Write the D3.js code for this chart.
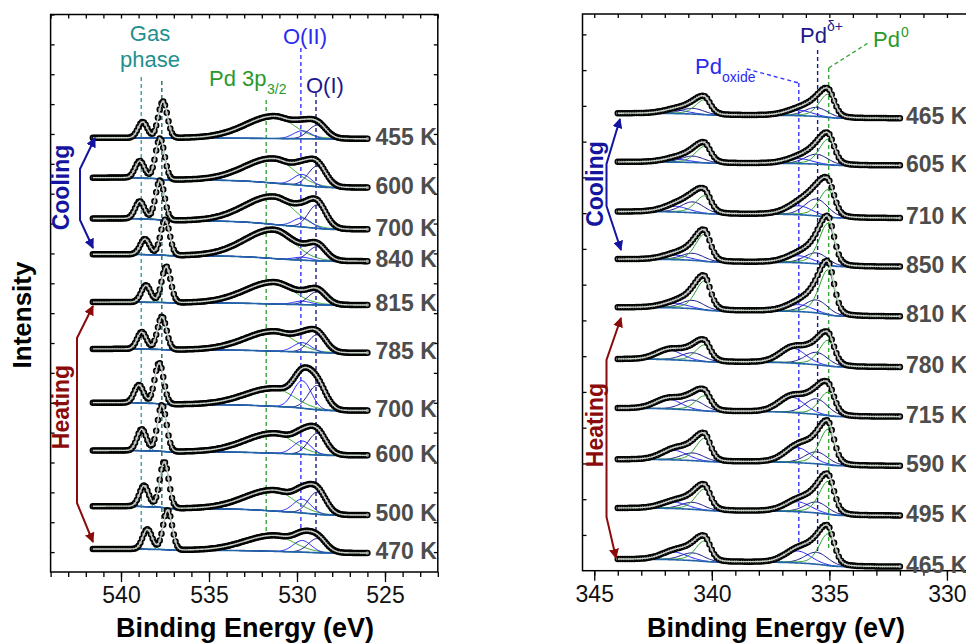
<!DOCTYPE html>
<html>
<head>
<meta charset="utf-8">
<script src="https://cdn.jsdelivr.net/npm/d3@7"></script>
<style>
  body { margin: 0; background: #fff; }
  svg { display: block; font-family: "Liberation Sans", Arial, sans-serif; }
</style>
</head>
<body>
<script>
// ---- O 1s / Pd 3p3/2 region (left panel), top to bottom ----
const oLabels = ['455 K', '600 K', '700 K', '840 K', '815 K', '785 K', '700 K', '600 K', '500 K', '470 K'];
const oOffset = [415, 366, 324, 292, 248, 200, 142, 97, 37, -1];     // background level at low BE end
const oStep   = [1, 10, 11, 7, 3, 4, 8, 5, 9, 4];                     // Shirley step
const oGasPos = [537.62, 537.78, 537.78, 537.49, 537.43, 537.67, 537.83, 537.67, 537.54, 537.35];
const oGasA   = [16, 17, 17.5, 15.5, 17, 17, 18, 21.5, 21, 20];        // gas phase, higher BE line
const oGasB   = [36.5, 40.7, 39.5, 35.5, 36, 33, 41, 46.5, 46, 40];    // gas phase, main line
const oPd3p   = [22.5, 24.7, 28, 29, 22, 20, 18, 20, 21, 16];
const oOII    = [8, 11, 9, 3, 3.5, 9.4, 27.6, 13.3, 13.9, 11.7];
const oOI     = [13.7, 20.6, 23.5, 14.3, 13.4, 17.8, 24.4, 21.7, 22.2, 14.2];

// ---- Pd 3d region (right panel), top to bottom ----
const pdLabels   = ['465 K', '605 K', '710 K', '850 K', '810 K', '780 K', '715 K', '590 K', '495 K', '465 K'];
const pdOffset   = [419.5, 372, 319, 270, 220, 169, 119, 69.5, 19.5, -32];
const pdStep     = [5, 3.5, 6.5, 7.5, 9, 8, 8.5, 6.5, 7.5, 7.5];
const pdMetal    = [23.4, 25.8, 27.7, 42.3, 45.3, 26, 23.6, 35.9, 33.2, 32];
const pdDelta    = [9, 10, 17, 11, 13, 12.5, 15.7, 12, 11, 12];
const pdOxide    = [5.5, 5, 9, 7, 7, 15, 15.5, 15, 10, 12];
const pdOxidePos = [336.3, 336.3, 336.3, 336.3, 336.3, 336.55, 336.6, 336.35, 336.35, 336.35];

const xTicksL = [540, 535, 530, 525];
const xTicksR = [345, 340, 335, 330];

const font = '"Liberation Sans", Arial, sans-serif';
const svg = d3.select("body").append("svg").attr("width", 966).attr("height", 644);

const xL = d3.scaleLinear([544, 522], [50.6, 437.8]);
const yL = d3.scaleLinear([-20, 540], [572, 14.5]);
const xR = d3.scaleLinear([345.5, 328.5], [582.5, 982.2]);
const yR = d3.scaleLinear([-36, 524.5], [570.7, 14]);

// pseudo-Voigt line, separate widths on the high-BE / low-BE sides
function peak(e, c, h, wHi, wLo, eta) {
  const t = (e - c) / (e >= c ? wHi : wLo);
  return h * ((1 - eta) * Math.exp(-4 * Math.LN2 * t * t) + eta / (1 + 4 * t * t));
}

function frame(x, y, majors, yTicks) {
  const g = svg.append("g");
  const [x0, x1] = x.range(), [yb, yt] = y.range();
  const d = x.domain();
  const minors = d3.range(Math.ceil(Math.min(...d)), Math.max(...d) + 0.01, 1);
  g.append("g").attr("transform", `translate(0,${yb})`)
    .call(d3.axisBottom(x).tickValues(minors).tickSize(5).tickFormat(""));
  g.append("g").attr("transform", `translate(0,${yb})`)
    .call(d3.axisBottom(x).tickValues(majors).tickSize(10).tickPadding(5).tickFormat(d3.format("d")));
  g.append("g").attr("transform", `translate(0,${yt})`)
    .call(d3.axisBottom(x).tickValues(minors).tickSize(4).tickFormat(""));
  g.append("g").attr("transform", `translate(${x0},0)`)
    .call(d3.axisRight(y).tickValues(yTicks).tickSize(4).tickFormat(""));
  g.append("g").attr("transform", `translate(${x1},0)`)
    .call(d3.axisLeft(y).tickValues(yTicks).tickSize(4).tickFormat(""));
  g.selectAll(".domain").remove();
  g.selectAll(".tick line").attr("stroke", "#000").attr("stroke-width", 1.3);
  g.selectAll(".tick text").attr("font-size", 23).attr("font-family", font).attr("fill", "#111");
  g.append("rect").attr("x", x0).attr("y", yt).attr("width", x1 - x0).attr("height", yb - yt)
    .attr("fill", "none").attr("stroke", "#000").attr("stroke-width", 1.5);
}

function spectrum(g, x, y, es, comps, offset, step) {
  const sig = es.map(e => d3.sum(comps, c => c.f(e)));
  const total = d3.sum(sig);
  const bg = new Array(es.length);
  let acc = 0;
  for (let i = es.length - 1; i >= 0; i--) { acc += sig[i]; bg[i] = offset + step * acc / total; }
  const line = d3.line().x(d => x(d[0])).y(d => y(d[1]));
  comps.forEach(c => {
    g.append("path").attr("d", line(es.map((e, i) => [e, bg[i] + c.f(e)])))
      .attr("fill", "none").attr("stroke", c.color).attr("stroke-width", 1);
  });
  g.append("path").attr("d", line(es.map((e, i) => [e, bg[i]])))
    .attr("fill", "none").attr("stroke", "#2363a8").attr("stroke-width", 1.6);
  const env = es.map((e, i) => [e, bg[i] + sig[i]]);
  g.selectAll(null).data(env.filter((d, i) => i % 2 === 0)).join("circle")
    .attr("cx", d => x(d[0])).attr("cy", d => y(d[1])).attr("r", 2.5)
    .attr("fill", "#8a8a8a").attr("stroke", "#000").attr("stroke-width", 1.5);
  g.append("path").attr("d", line(env))
    .attr("fill", "none").attr("stroke", "#c9d3c9").attr("stroke-width", 1.4);
}

function dashed(x1, y1, x2, y2, color) {
  svg.append("line").attr("x1", x1).attr("y1", y1).attr("x2", x2).attr("y2", y2)
    .attr("stroke", color).attr("stroke-width", 1.4).attr("stroke-dasharray", "4,3");
}

function label(txt, x, y, size, color, opts = {}) {
  return svg.append("text").attr("x", x).attr("y", y).text(txt)
    .attr("font-size", size).attr("fill", color).attr("font-family", font)
    .attr("font-weight", opts.bold ? "bold" : null)
    .attr("text-anchor", opts.anchor || "start");
}

frame(xL, yL, xTicksL, d3.range(0, 541, 30));
frame(xR, yR, xTicksR, d3.range(0, 505, 36));

// ---- peak position markers ----
const teal1 = "#3aa3a3", teal2 = "#1d6e6e", green = "#3aa53a", blue = "#3535ff", navy = "#1c1c8e";
dashed(xL(538.85), 77, xL(538.85), 532, teal1);
dashed(xL(537.68), 81, xL(537.68), 532, teal2);
dashed(xL(531.75), 100, xL(531.75), 532, green);
dashed(xL(529.78), 48, xL(529.78), 532, blue);
dashed(xL(528.92), 93, xL(528.92), 532, navy);

dashed(746.7, 69, xR(336.3), 83, blue);
dashed(xR(336.3), 83, xR(336.3), 550, blue);
dashed(xR(335.5), 50, xR(335.5), 553, navy);
dashed(xR(335.03), 68, xR(335.03), 550, green);
dashed(xR(335.03), 68, 868, 43, green);

// ---- spectra ----
const esL = d3.range(541.6, 525.97, -0.05);
const gL = svg.append("g");
oLabels.forEach((t, i) => {
  const comps = [
    { color: "#2a9696", f: e => peak(e, oGasPos[i] + 1.15, oGasA[i], 0.62, 0.62, 0) },
    { color: "#1f7a7a", f: e => peak(e, oGasPos[i], oGasB[i], 0.6, 0.6, 0) },
    { color: "#2ca02c", f: e => peak(e, 531.3, oPd3p[i], 3.9, 2.6, 0.15) },
    { color: "#2020ff", f: e => peak(e, 529.7, oOII[i], 1.2, 1.2, 0) },
    { color: "#12128a", f: e => peak(e, 528.85, oOI[i], 1.2, 1.2, 0) }
  ];
  spectrum(gL.append("g"), xL, yL, esL, comps, oOffset[i], oStep[i]);
  label(t, xL(526) + 8, yL(oOffset[i]) - 2, 23, "#4d4d4d", { bold: true }).attr("dy", "0.35em");
});

const esR = d3.range(344.0, 331.97, -0.05);
const gR = svg.append("g");
const so = 5.26, br = 0.64;
pdLabels.forEach((t, i) => {
  const comps = [
    { color: "#2020ff", f: e => peak(e, pdOxidePos[i], pdOxide[i], 1.3, 1.3, 0.1) + peak(e, pdOxidePos[i] + so, br * pdOxide[i], 1.3, 1.3, 0.1) },
    { color: "#12128a", f: e => peak(e, 335.55, pdDelta[i], 1.15, 1.15, 0.1) + peak(e, 335.55 + so, br * pdDelta[i], 1.15, 1.15, 0.1) },
    { color: "#2ca02c", f: e => peak(e, 335.05, pdMetal[i], 0.9, 0.6, 0.3) + peak(e, 335.05 + so, br * pdMetal[i], 0.9, 0.6, 0.3) }
  ];
  spectrum(gR.append("g"), xR, yR, esR, comps, pdOffset[i], pdStep[i]);
  label(t, xR(332) + 6, yR(pdOffset[i]) - 2, 23, "#4d4d4d", { bold: true }).attr("dy", "0.35em");
});

// ---- peak labels ----
label("Gas", 150, 41, 22, "#1f8f8f", { anchor: "middle" });
label("phase", 150, 67, 22, "#1f8f8f", { anchor: "middle" });
label("Pd 3p", 209, 86, 22, "#2a9a2a");
label("3/2", 267, 94, 14, "#2a9a2a");
label("O(II)", 283, 44, 22, "#2b2bf0");
label("O(I)", 306, 93, 22, "#1a1a8c");
label("Pd", 695, 74, 22, "#2b2bf0");
label("oxide", 722, 82, 14, "#2b2bf0");
label("Pd", 800, 43, 22, "#1a1a8c");
label("\u03b4+", 827, 31, 14, "#1a1a8c");
label("Pd", 873, 47, 22, "#2a9a2a");
label("0", 901, 37, 14, "#2a9a2a");

// ---- cooling / heating brackets ----
const defs = svg.append("defs");
[["blue", "#1414a0"], ["red", "#8b0a0a"]].forEach(([id, c]) => {
  defs.append("marker").attr("id", "arr-" + id).attr("viewBox", "0 0 10 10")
    .attr("refX", 9).attr("refY", 5).attr("markerWidth", 5).attr("markerHeight", 5)
    .attr("orient", "auto-start-reverse")
    .append("path").attr("d", "M0,0 L10,5 L0,10 z").attr("fill", c);
});
const bracket = (pts, id, color) => svg.append("path").attr("d", d3.line()(pts))
  .attr("fill", "none").attr("stroke", color).attr("stroke-width", 2)
  .attr("marker-start", `url(#arr-${id})`).attr("marker-end", `url(#arr-${id})`);
bracket([[95, 138], [80, 169], [80, 220], [93, 248]], "blue", "#1414a0");
bracket([[93, 306], [77, 338], [77, 503], [93, 542]], "red", "#8b0a0a");
bracket([[620, 119], [606.5, 164], [606.5, 206], [621, 250]], "blue", "#1414a0");
bracket([[621, 318], [606.5, 360], [606.5, 517], [616, 558]], "red", "#8b0a0a");

const vtext = (txt, x, y, size, color) => svg.append("text").text(txt)
  .attr("transform", `translate(${x},${y}) rotate(-90)`).attr("text-anchor", "middle")
  .attr("font-size", size).attr("font-weight", "bold").attr("fill", color).attr("font-family", font);
vtext("Cooling", 68.5, 187.5, 23, "#1414a0");
vtext("Heating", 68.5, 407, 23, "#8b0a0a");
vtext("Cooling", 602.5, 184, 23, "#1414a0");
vtext("Heating", 602.5, 425, 23, "#8b0a0a");

// ---- axis titles ----
vtext("Intensity", 31, 315, 26, "#000");
label("Binding Energy (eV)", 245, 637, 27, "#000", { bold: true, anchor: "middle" });
label("Binding Energy (eV)", 776, 637, 27, "#000", { bold: true, anchor: "middle" });
</script>
</body>
</html>
